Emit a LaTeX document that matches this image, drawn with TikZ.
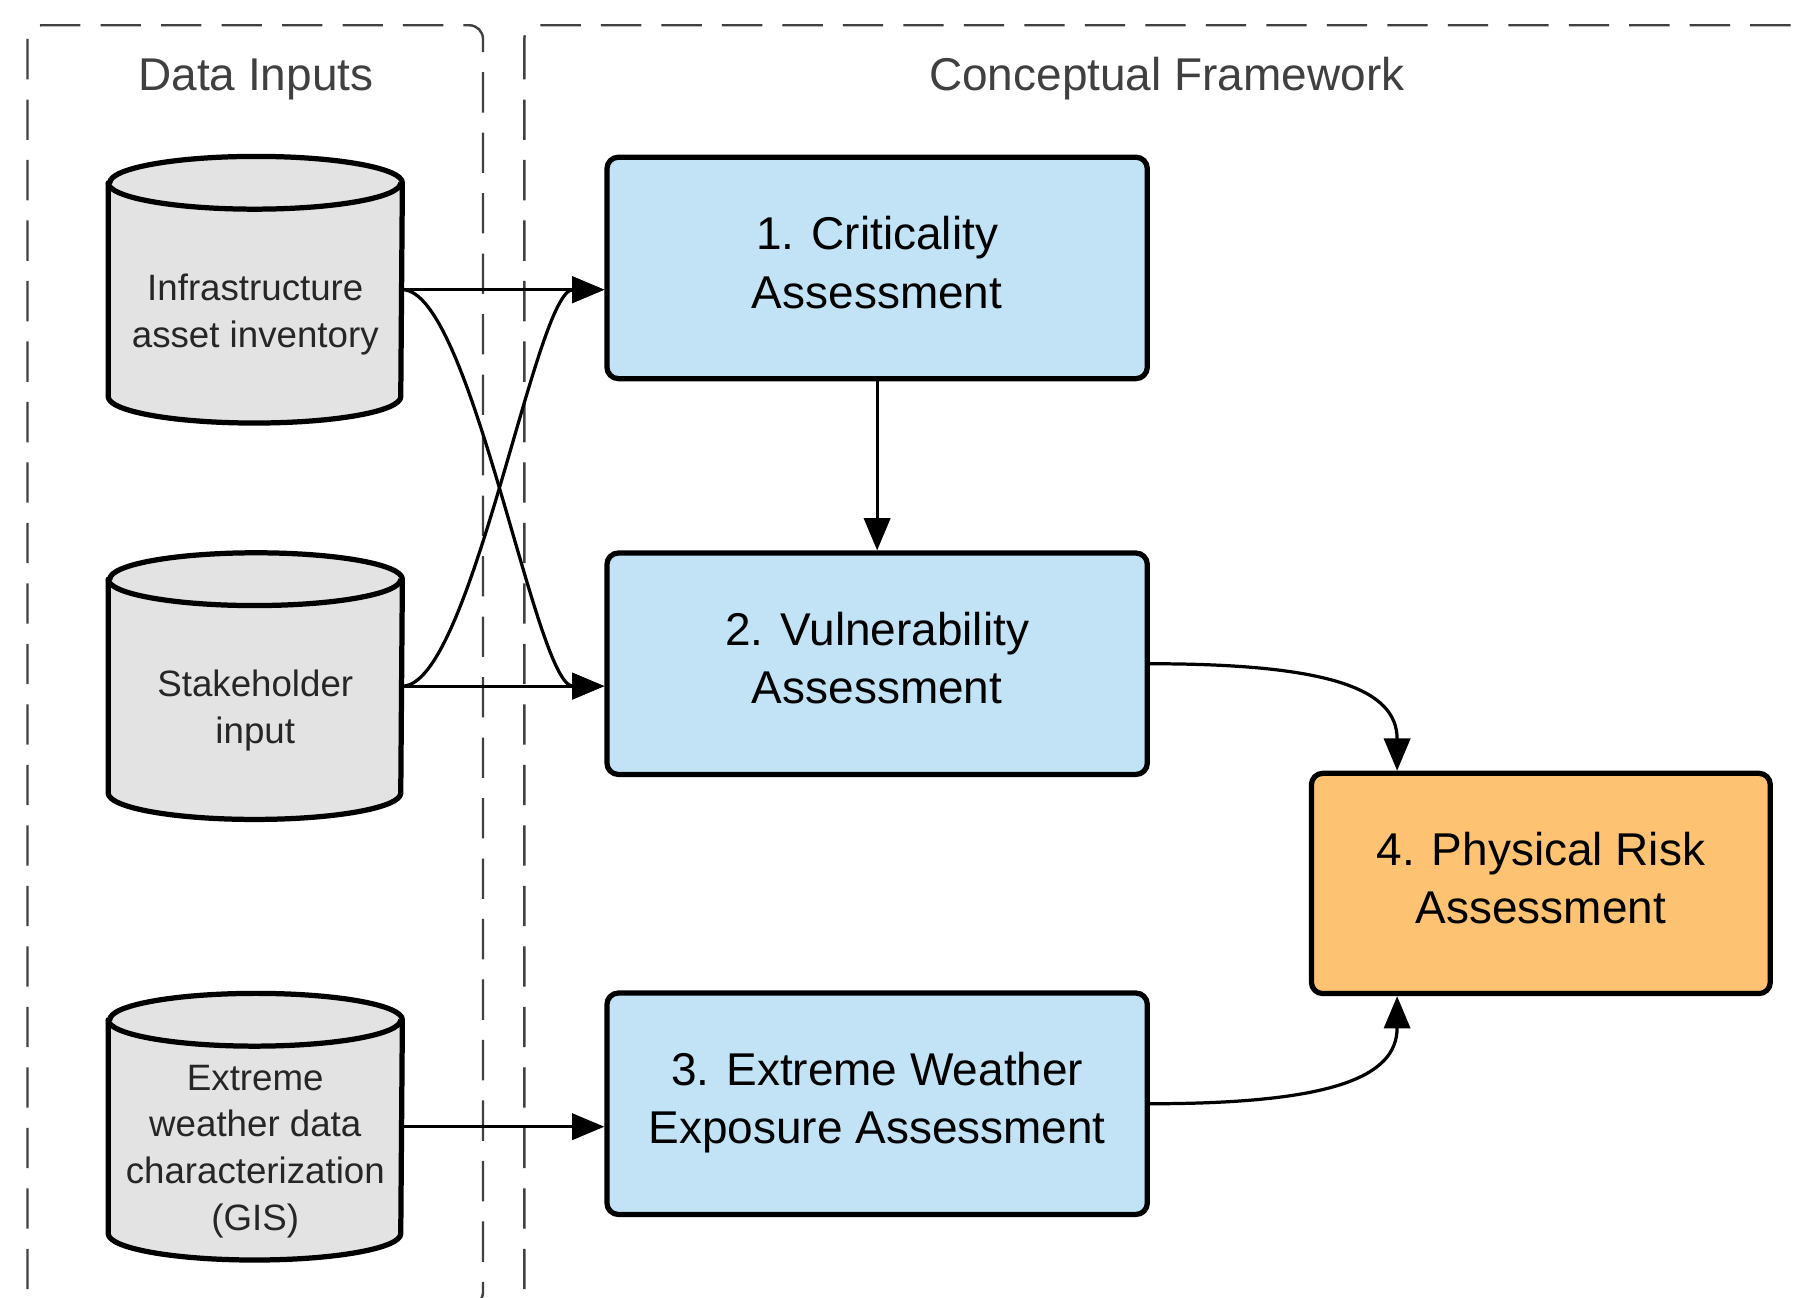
\documentclass[tikz,border=0pt]{standalone}
\usepackage{fontspec}
\setmainfont{Liberation Sans}
\usetikzlibrary{arrows.meta}

\definecolor{boxblue}{HTML}{C2E3F5}
\definecolor{boxorange}{HTML}{FDC373}
\definecolor{cylgray}{HTML}{E3E3E3}
\definecolor{framegray}{HTML}{404040}

\begin{document}
\begin{tikzpicture}[
    groupframe/.style={draw=framegray, line width=0.6pt, dash pattern=on 10pt off 5pt, rounded corners=0.12cm},
    grouptitle/.style={text=framegray, font=\fontsize{11.4}{14}\selectfont, anchor=base},
    store/.style={minimum width=2.55cm, minimum height=2.31cm, inner sep=0pt},
    storeline/.style={draw, line width=1.3pt, line join=round},
    storetext/.style={align=center, font=\fontsize{9.1}{11.6}\selectfont, text=black!85},
    procbox/.style={draw, line width=1.3pt, rounded corners=0.1cm, fill=boxblue, minimum width=4.71cm,
        minimum height=1.93cm, align=center, text depth=0.1cm, font=\fontsize{11.4}{14.5}\selectfont},
    flow/.style={line width=0.8pt, -{Triangle[length=8pt,width=6.5pt]}}
]
    \useasboundingbox (0,0) rectangle (15.68,-11.31);

    % the two groups
    \draw[groupframe] (0.24,-0.22) rectangle (4.21,-11.38);
    \draw[groupframe] (4.57,-0.22) rectangle (16.2,-11.38);
    \node[grouptitle] (intitle) at (2.23,-0.79) {Data Inputs};
    \node[grouptitle] (cftitle) at (10.17,-0.79) {Conceptual Framework};

    % data stores
    \foreach \name/\y/\txt in {inv/-2.525/{Infrastructure\\asset inventory},
                               stake/-5.98/{Stakeholder\\input},
                               wx/-9.82/{Extreme\\weather data\\characterization\\(GIS)}}
    {
        \node[store] (\name) at (2.225,\y) {};
        \draw[storeline, fill=cylgray] ([yshift=-0.23cm]\name.north west)
            -- ([yshift=0.23cm]\name.south west)
            arc[start angle=180, end angle=360, x radius=1.275cm, y radius=0.23cm]
            -- ([yshift=-0.23cm]\name.north east)
            arc[start angle=0, end angle=180, x radius=1.275cm, y radius=0.23cm] -- cycle;
        \draw[storeline] ([yshift=-0.23cm]\name.north west)
            arc[start angle=180, end angle=360, x radius=1.275cm, y radius=0.23cm];
        \node[storetext, yshift=-0.215cm] (\name txt) at (\name.center) {\txt};
    }

    % assessment steps
    \node[procbox] (crit) at (7.645,-2.335) {1. Criticality\\Assessment};
    \node[procbox] (vuln) at (7.645,-5.785) {2. Vulnerability\\Assessment};
    \node[procbox] (expo) at (7.645,-9.62) {3. Extreme Weather\\Exposure Assessment};
    \node[procbox, fill=boxorange, minimum width=4.0cm, minimum height=1.92cm] (risk) at (13.43,-7.70)
        {4. Physical Risk\\Assessment};

    % inputs
    \draw[flow] (inv.east) -- (crit.west |- inv.east);
    \draw[flow] (inv.east) .. controls +(0.6,0) and +(-0.6,0) .. (vuln.west |- stake.east);
    \draw[flow] (stake.east) .. controls +(0.6,0) and +(-0.6,0) .. (crit.west |- inv.east);
    \draw[flow] (stake.east) -- (vuln.west |- stake.east);
    \draw[flow] (wx.east) -- (expo.west |- wx.east);

    % steps
    \draw[flow] (crit) -- (vuln);
    \draw[flow] (vuln.east) .. controls +(1.6,0) and +(0,0.7) .. ([xshift=0.77cm]risk.north west);
    \draw[flow] (expo.east) .. controls +(1.6,0) and +(0,-0.7) .. ([xshift=0.77cm]risk.south west);
\end{tikzpicture}
\end{document}
